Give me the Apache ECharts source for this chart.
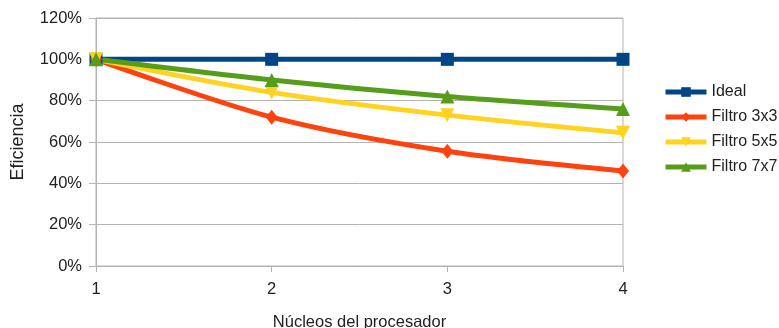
<!DOCTYPE html>
<html><head><meta charset="utf-8">
<script src="https://cdn.jsdelivr.net/npm/echarts@6/dist/echarts.min.js"></script>
<style>html,body{margin:0;padding:0;background:#fff}#c{width:779px;height:328px}</style>
</head><body><div id="c"></div>
<script>
const categories = ['1', '2', '3', '4'];
const ideal = [1.00, 1.00, 1.00, 1.00];
const filtro3x3 = [1.00, 0.72, 0.555, 0.46];
const filtro5x5 = [1.00, 0.84, 0.73, 0.645];
const filtro7x7 = [1.00, 0.90, 0.82, 0.76];
const seriesNames = ['Ideal', 'Filtro 3x3', 'Filtro 5x5', 'Filtro 7x7'];

const font = 'Liberation Sans';
const colors = ['#004586', '#ff420e', '#ffd320', '#579d1c'];
const symbols = ['rect', 'diamond', 'path://M0,0 L10,0 L5,9 Z', 'triangle'];
const symbolSizes = [13, [12, 15], 14, 14];
const datas = [ideal, filtro3x3, filtro5x5, filtro7x7];

const chart = echarts.init(document.getElementById('c'));
chart.setOption({
  animation: false,
  color: colors,
  textStyle: { fontFamily: font },
  grid: { left: 96, right: 156, top: 18, bottom: 62, show: true, borderColor: '#b3b3b3', borderWidth: 1,
    containLabel: false, outerBoundsMode: 'none' },
  legend: {
    orient: 'vertical', left: 658, top: 79, itemGap: 9, itemWidth: 41, itemHeight: 12,
    data: seriesNames,
    lineStyle: { width: 5 },
    textStyle: { fontFamily: font, fontSize: 16, color: '#222' }
  },
  xAxis: {
    type: 'category', data: categories, boundaryGap: false,
    name: 'Núcleos del procesador', nameLocation: 'middle', nameGap: 48,
    nameTextStyle: { fontFamily: font, fontSize: 16.5, color: '#222' },
    axisLine: { lineStyle: { color: '#b3b3b3' } },
    axisTick: { show: true, length: 6, lineStyle: { color: '#b3b3b3' } },
    axisLabel: { fontFamily: font, fontSize: 16.5, color: '#222', margin: 15 },
    splitLine: { show: false }
  },
  yAxis: {
    type: 'value', min: 0, max: 1.2, interval: 0.2,
    name: 'Eficiencia', nameLocation: 'middle', nameGap: 69, nameRotate: 90,
    nameTextStyle: { fontFamily: font, fontSize: 18, color: '#222' },
    axisLine: { show: true, lineStyle: { color: '#b3b3b3' } },
    axisTick: { show: true, length: 7, lineStyle: { color: '#b3b3b3' } },
    axisLabel: { fontFamily: font, fontSize: 16.5, color: '#222', margin: 14,
      formatter: v => Math.round(v * 100) + '%' },
    splitLine: { lineStyle: { color: '#b3b3b3' } }
  },
  series: seriesNames.map((n, i) => ({
    name: n, type: 'line', data: datas[i], smooth: 0.3,
    symbol: symbols[i], symbolSize: symbolSizes[i],
    lineStyle: { width: 5, color: colors[i] },
    itemStyle: { color: colors[i] }
  }))
});
</script></body></html>
